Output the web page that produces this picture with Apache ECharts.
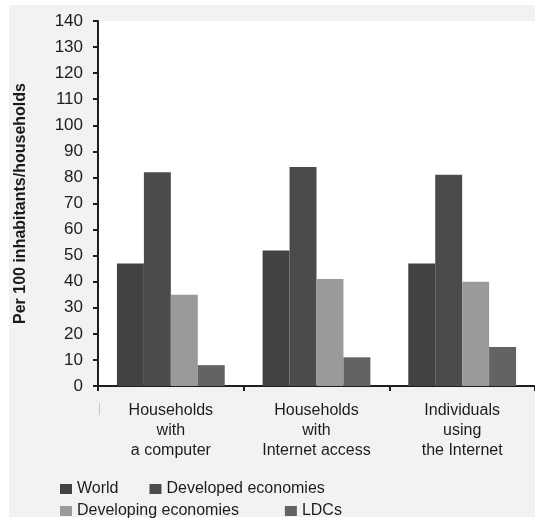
<!DOCTYPE html>
<html>
<head>
<meta charset="utf-8">
<script src="https://cdn.jsdelivr.net/npm/echarts@6/dist/echarts.min.js"></script>
<style>
  html, body { margin: 0; padding: 0; background: #ffffff; }
  #chart { width: 535px; height: 519px; }
</style>
</head>
<body>
<div id="chart"></div>
<script>
// Categories and values (per 100 inhabitants / households)
const categories = [
  'Households\nwith\na computer',
  'Households\nwith\nInternet access',
  'Individuals\nusing\nthe Internet'
];
const world      = [47, 52, 47];
const developed  = [82, 84, 81];
const developing = [35, 41, 40];
const ldcs       = [8, 11, 15];

const yTicks = { min: 0, max: 140, interval: 10 };
const yTitle = 'Per 100 inhabitants/households';

const colors = {
  world: '#424242',
  developed: '#4b4b4b',
  developing: '#9a9a9a',
  ldcs: '#636363'
};

const font = 'Liberation Sans, Arial, Helvetica, sans-serif';
const textColor = '#1c1c1c';

const chart = echarts.init(document.getElementById('chart'));

function bar(name, data, color) {
  return {
    name: name,
    type: 'bar',
    data: data,
    barGap: '0%',
    barCategoryGap: '26%',
    itemStyle: { color: color },
    emphasis: { disabled: true }
  };
}

chart.setOption({
  animation: false,
  backgroundColor: '#ffffff',
  textStyle: { fontFamily: font, color: textColor },
  graphic: [
    {
      type: 'rect',
      z: -10,
      shape: { x: 9, y: 5, width: 526, height: 512 },
      style: { fill: '#f2f2f2' }
    },
    {
      type: 'rect',
      z: -9,
      shape: { x: 99, y: 403, width: 1, height: 12 },
      style: { fill: '#c8c8c8' }
    }
  ],
  grid: {
    left: 98, right: 0, top: 21, bottom: 133,
    show: true, backgroundColor: '#ffffff', borderWidth: 0
  },
  legend: [
    {
      left: 55, top: 476,
      itemWidth: 12, itemHeight: 10, itemGap: 31,
      icon: 'rect',
      textStyle: { fontSize: 16, color: textColor, fontFamily: font },
      data: ['World', 'Developed economies']
    },
    {
      left: 55, top: 498,
      itemWidth: 12, itemHeight: 10, itemGap: 46,
      icon: 'rect',
      textStyle: { fontSize: 16, color: textColor, fontFamily: font },
      data: ['Developing economies', 'LDCs']
    }
  ],
  xAxis: {
    type: 'category',
    data: categories,
    axisLine: { lineStyle: { color: '#1e1e1e', width: 2 } },
    axisTick: { show: true, length: 5, lineStyle: { color: '#1e1e1e', width: 2 } },
    axisLabel: {
      fontSize: 16, lineHeight: 20, margin: 15,
      color: textColor, fontFamily: font
    },
    splitLine: { show: false }
  },
  yAxis: {
    type: 'value',
    min: yTicks.min, max: yTicks.max, interval: yTicks.interval,
    name: yTitle,
    nameLocation: 'middle',
    nameGap: 69,
    nameRotate: 90,
    nameTextStyle: { fontSize: 16, fontWeight: 'bold', color: '#1a1a1a', fontFamily: font },
    axisLine: { show: true, lineStyle: { color: '#1e1e1e', width: 2 } },
    axisTick: { show: true, length: 5, lineStyle: { color: '#1e1e1e', width: 2 } },
    axisLabel: { fontSize: 17, margin: 15, color: textColor, fontFamily: font },
    splitLine: { show: false }
  },
  series: [
    bar('World', world, colors.world),
    bar('Developed economies', developed, colors.developed),
    bar('Developing economies', developing, colors.developing),
    bar('LDCs', ldcs, colors.ldcs)
  ]
});
</script>
</body>
</html>
